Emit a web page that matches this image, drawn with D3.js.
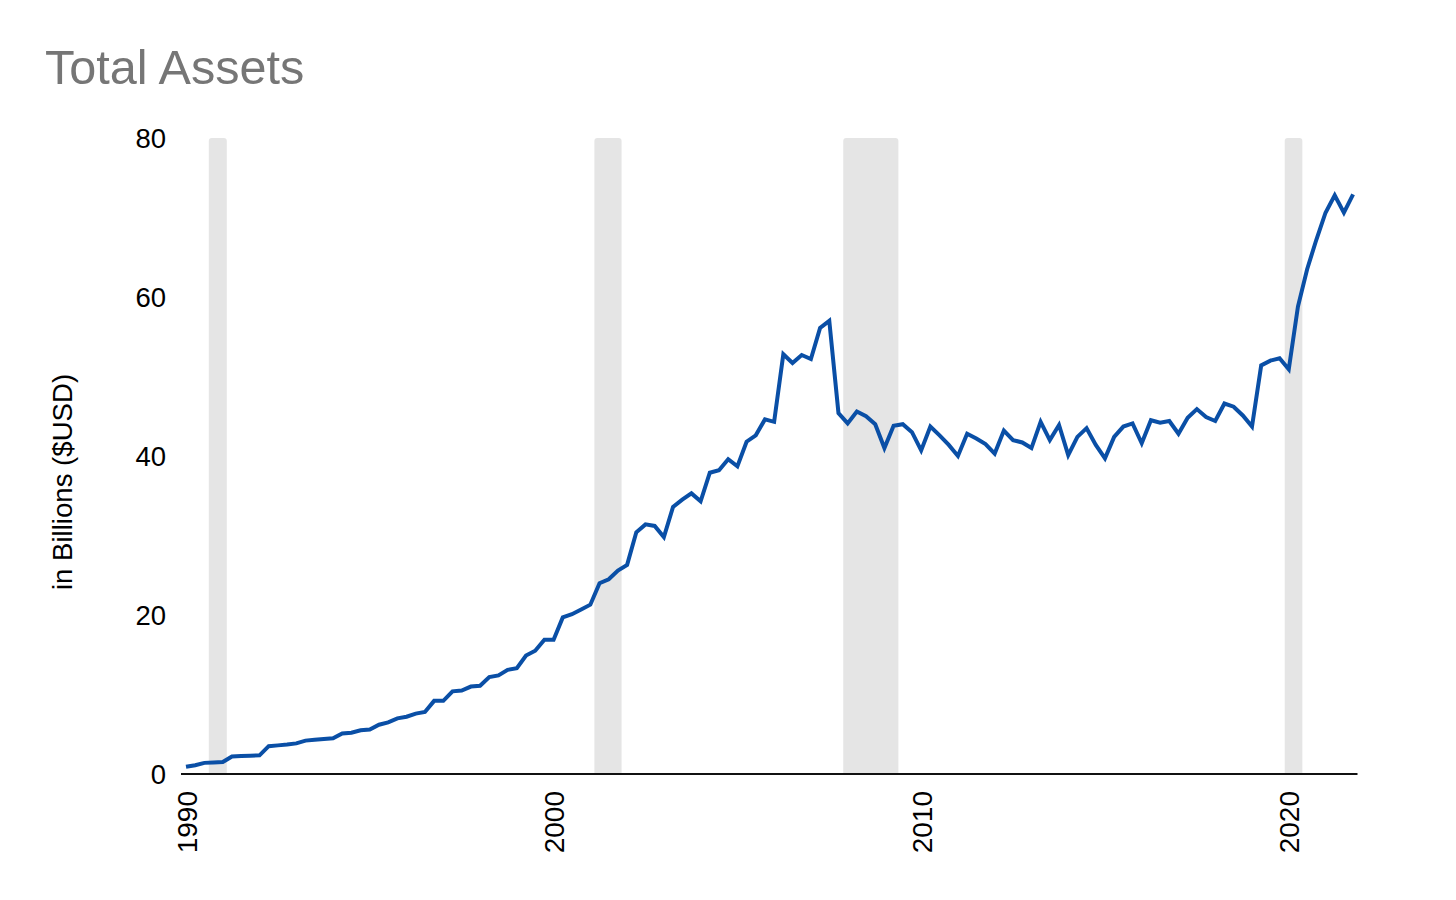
<!DOCTYPE html>
<html>
<head>
<meta charset="utf-8">
<script src="https://cdn.jsdelivr.net/npm/d3@7"></script>
<style>
  html, body { margin: 0; padding: 0; background: #ffffff; }
  svg { display: block; }
  text { font-family: "Liberation Sans", Arial, sans-serif; }
</style>
</head>
<body>
<svg id="chart" width="1456" height="900"></svg>
<script>
// Quarterly observations, 1990 Q1 .. 2021 Q4
const startYear = 1990;
const totalAssets = [
  0.9, 1.1, 1.4, 1.45, 1.5, 2.2, 2.25, 2.3,          // 1990-1991
  2.35, 3.5, 3.6, 3.7, 3.85, 4.2, 4.3, 4.4,           // 1992-1993
  4.5, 5.1, 5.2, 5.5, 5.6, 6.2, 6.5, 7.0,             // 1994-1995
  7.2, 7.6, 7.8, 9.2, 9.2, 10.4, 10.5, 11.0,          // 1996-1997
  11.1, 12.2, 12.4, 13.1, 13.3, 14.9, 15.5, 16.9,     // 1998-1999
  16.9, 19.7, 20.1, 20.7, 21.3, 24.0, 24.5, 25.6,     // 2000-2001
  26.3, 30.4, 31.4, 31.2, 29.8, 33.6, 34.5, 35.3,     // 2002-2003
  34.3, 37.9, 38.2, 39.6, 38.7, 41.8, 42.6, 44.6,     // 2004-2005
  44.3, 52.8, 51.7, 52.7, 52.2, 56.1, 57.0, 45.4,     // 2006-2007
  44.1, 45.6, 45.0, 44.0, 41.0, 43.8, 44.0, 43.0,     // 2008-2009
  40.7, 43.7, 42.6, 41.4, 40.0, 42.8, 42.2, 41.5,     // 2010-2011
  40.3, 43.2, 42.0, 41.7, 41.0, 44.3, 42.0, 43.9,     // 2012-2013
  40.1, 42.4, 43.5, 41.4, 39.7, 42.4, 43.7, 44.1,     // 2014-2015
  41.6, 44.5, 44.2, 44.4, 42.8, 44.8, 45.9, 44.9,     // 2016-2017
  44.4, 46.6, 46.2, 45.1, 43.7, 51.4, 52.0, 52.3,     // 2018-2019
  50.9, 58.8, 63.5, 67.2, 70.6, 72.8, 70.6, 72.9      // 2020-2021
];
// Recession shading (fractional years)
const recessionStart = [1990.62, 2001.11, 2007.88, 2019.89];
const recessionEnd   = [1991.11, 2001.85, 2009.38, 2020.37];
const yTicks = [0, 20, 40, 60, 80];
const xTicks = [1990, 2000, 2010, 2020];
const titleText = "Total Assets";
const yLabelText = "in Billions ($USD)";

const points = totalAssets.map((v, i) => ({ t: startYear + i / 4, v }));
const recessions = recessionStart.map((s, i) => ({ s, e: recessionEnd[i] }));

const svg = d3.select("#chart");
const x = d3.scaleLinear().domain([1990, 2021.87]).range([186, 1357.5]);
const y = d3.scaleLinear().domain([0, 80]).range([774, 138]);

// Title
svg.append("text")
  .attr("x", 45).attr("y", 84)
  .attr("font-size", 48.6)
  .attr("fill", "#767676")
  .text(titleText);

// Recession bands with rounded top corners
const r = 3;
svg.append("g").selectAll("path")
  .data(recessions)
  .join("path")
  .attr("fill", "#e5e5e5")
  .attr("d", d => {
    const x0 = x(d.s), x1 = x(d.e), y0 = y(80), y1 = y(0);
    return `M${x0},${y1} L${x0},${y0 + r} Q${x0},${y0} ${x0 + r},${y0} L${x1 - r},${y0} Q${x1},${y0} ${x1},${y0 + r} L${x1},${y1} Z`;
  });

// Y axis (labels only)
const yAxis = d3.axisLeft(y).tickValues(yTicks).tickSize(0).tickPadding(0);
const gy = svg.append("g").attr("transform", "translate(166,0)").call(yAxis);
gy.select(".domain").remove();
gy.selectAll("text")
  .attr("font-size", 27.5)
  .attr("font-family", "Liberation Sans, Arial, sans-serif")
  .attr("fill", "#000")
  .attr("dy", "0.36em");

// Y label
svg.append("text")
  .attr("transform", "translate(72,482) rotate(-90)")
  .attr("text-anchor", "middle")
  .attr("font-size", 27.6)
  .attr("fill", "#000")
  .text(yLabelText);

// Line
const line = d3.line().x(d => x(d.t)).y(d => y(d.v));
svg.append("path")
  .datum(points)
  .attr("fill", "none")
  .attr("stroke", "#0a4fa6")
  .attr("stroke-width", 4)
  .attr("stroke-linejoin", "miter")
  .attr("d", line);

// X axis
const xAxis = d3.axisBottom(x).tickValues(xTicks).tickFormat(d3.format("d")).tickSize(0).tickSizeOuter(0).tickPadding(0);
const gx = svg.append("g").attr("transform", "translate(0,774)").call(xAxis);
gx.select(".domain")
  .attr("stroke", "#111")
  .attr("stroke-width", 2)
  .attr("d", `M181,0H${x.range()[1]}`);
gx.selectAll("text")
  .attr("font-size", 28)
  .attr("font-family", "Liberation Sans, Arial, sans-serif")
  .attr("fill", "#000")
  .attr("text-anchor", "end")
  .attr("transform", "rotate(-90)")
  .attr("x", -17)
  .attr("y", 0)
  .attr("dy", "0.36em");
</script>
</body>
</html>
